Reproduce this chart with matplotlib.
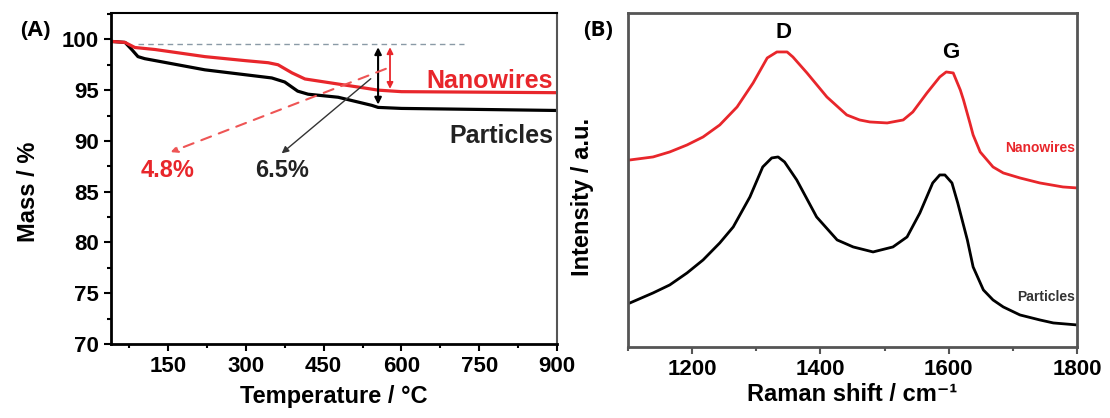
import matplotlib
matplotlib.use('Agg')
import matplotlib.pyplot as plt
from matplotlib import ticker

plt.rcParams['font.family'] = ['Liberation Sans', 'DejaVu Sans']
plt.rcParams['font.weight'] = 'bold'
plt.rcParams['axes.labelweight'] = 'bold'

# (A) TGA curves, temperature in C, mass in %
temp_nw = [40, 67, 86, 125, 221, 300, 343, 362, 389, 414, 478, 530, 555, 600, 750, 896]
mass_nw = [99.8, 99.7, 99.2, 99.0, 98.3, 97.9, 97.7, 97.5, 96.7, 96.1, 95.6, 95.2, 95.0, 94.85, 94.8, 94.75]

temp_pt = [40, 67, 80, 92, 105, 221, 350, 375, 400, 420, 478, 543, 555, 600, 750, 896]
mass_pt = [99.8, 99.7, 99.0, 98.3, 98.1, 97.0, 96.2, 95.8, 94.9, 94.6, 94.3, 93.5, 93.3, 93.2, 93.1, 93.0]

# (B) Raman spectra, shift in cm-1, intensity in arbitrary units
raman_nw = [1103, 1139, 1165, 1192, 1217, 1243, 1270, 1295, 1317, 1332, 1348, 1357, 1379, 1410,
            1441, 1461, 1477, 1504, 1529, 1544, 1566, 1586, 1596, 1607, 1618, 1623, 1633, 1638,
            1649, 1669, 1685, 1711, 1742, 1778, 1800]
int_nw = [187, 190, 195, 202, 210, 222, 240, 264, 289, 295, 295, 290, 274, 250,
          232, 227, 225, 224, 227, 235, 254, 270, 275, 274, 257, 247, 224, 212,
          195, 180, 174, 169, 164, 160, 159]

raman_pt = [1103, 1139, 1165, 1192, 1217, 1243, 1264, 1290, 1310, 1324, 1334, 1344, 1363, 1394,
            1426, 1451, 1482, 1513, 1535, 1555, 1575, 1586, 1594, 1605, 1614, 1629, 1638, 1654,
            1669, 1685, 1711, 1742, 1763, 1800]
int_pt = [44, 54, 62, 74, 87, 104, 120, 150, 180, 189, 190, 185, 167, 130,
          107, 100, 95, 100, 110, 134, 164, 172, 172, 164, 144, 107, 80, 57,
          47, 40, 32, 27, 24, 22]

RED = '#e8262b'
fig = plt.figure(figsize=(11.1, 4.18), dpi=100)

# ---------------- panel A ----------------
ax1 = fig.add_axes([0.100, 0.177, 0.4018, 0.792])
ax1.plot(temp_pt, mass_pt, color='black', lw=2.3)
ax1.plot(temp_nw, mass_nw, color=RED, lw=2.3)
ax1.set_xlim(40, 900)
ax1.set_ylim(70, 102.6)
ax1.xaxis.set_major_locator(ticker.FixedLocator([150, 300, 450, 600, 750, 900]))
ax1.xaxis.set_minor_locator(ticker.MultipleLocator(75))
ax1.yaxis.set_major_locator(ticker.MultipleLocator(5))
ax1.yaxis.set_minor_locator(ticker.MultipleLocator(2.5))
ax1.tick_params(which='both', direction='out', top=False, right=False, labelsize=16, width=1.5)
ax1.tick_params(which='major', length=5)
ax1.tick_params(which='minor', length=3)
for s in ['left', 'bottom']:
    ax1.spines[s].set_linewidth(2)
ax1.spines['top'].set_linewidth(1.5)
ax1.spines['right'].set_linewidth(1.5)
ax1.spines['right'].set_color('#555555')
ax1.set_xlabel('Temperature / °C', fontsize=17, labelpad=6)
ax1.set_ylabel('Mass / %', fontsize=17, labelpad=10)
ax1.yaxis.set_label_coords(-0.16, 0.46)

# reference line and arrows
ax1.plot([92, 720], [99.5, 99.5], color='#8a9aa6', lw=1, ls=(0, (4, 3)))
ax1.annotate('', xy=(555, 99.5), xytext=(555, 93.3),
             arrowprops=dict(arrowstyle='<|-|>', color='black', lw=1.5, mutation_scale=10))
ax1.annotate('', xy=(578, 99.5), xytext=(578, 94.85),
             arrowprops=dict(arrowstyle='<|-|>', color=RED, lw=1.3, mutation_scale=9))
ax1.annotate('', xy=(150, 88.8), xytext=(575, 97.2),
             arrowprops=dict(arrowstyle='-|>', color='#ee5555', lw=1.5, ls=(0, (5, 4)), mutation_scale=10))
ax1.annotate('', xy=(365, 88.6), xytext=(545, 96.3),
             arrowprops=dict(arrowstyle='-|>', color='#333333', lw=1.0, mutation_scale=10))
ax1.text(150, 87.1, '4.8%', color=RED, fontsize=17, ha='center', va='center')
ax1.text(370, 87.1, '6.5%', color='#222222', fontsize=17, ha='center', va='center')
ax1.text(893, 95.9, 'Nanowires', color=RED, fontsize=18, ha='right', va='center')
ax1.text(893, 90.5, 'Particles', color='#222222', fontsize=18, ha='right', va='center')
fig.text(0.018, 0.928, '(A)', fontsize=16, fontweight='bold', family='Open Sans', va='center')

# ---------------- panel B ----------------
ax2 = fig.add_axes([0.5658, 0.170, 0.4045, 0.799])
ax2.plot(raman_nw, int_nw, color=RED, lw=2)
ax2.plot(raman_pt, int_pt, color='black', lw=2)
ax2.set_xlim(1100, 1800)
ax2.set_ylim(0, 334)
ax2.xaxis.set_major_locator(ticker.MultipleLocator(200))
ax2.xaxis.set_minor_locator(ticker.MultipleLocator(100))
ax2.set_yticks([])
ax2.tick_params(which='both', direction='out', top=False, labelsize=16, width=1.5, color='#555555')
ax2.tick_params(which='major', length=5)
ax2.tick_params(which='minor', length=3)
for s in ax2.spines.values():
    s.set_linewidth(2)
    s.set_color('#555555')
ax2.set_xlabel('Raman shift / cm⁻¹', fontsize=17, labelpad=2)
ax2.set_ylabel('Intensity / a.u.', fontsize=17)
ax2.yaxis.set_label_coords(-0.075, 0.45)
ax2.text(1342, 314, 'D', fontsize=16, ha='center', va='center')
ax2.text(1603, 294, 'G', fontsize=16, ha='center', va='center')
ax2.text(1797, 199, 'Nanowires', color=RED, fontsize=10, ha='right', va='center')
ax2.text(1797, 50, 'Particles', color='#333333', fontsize=10, ha='right', va='center')
fig.text(0.525, 0.928, '(B)', fontsize=16, fontweight='bold', family='Open Sans', va='center')

fig.savefig('out.png', dpi=100, facecolor='white')
